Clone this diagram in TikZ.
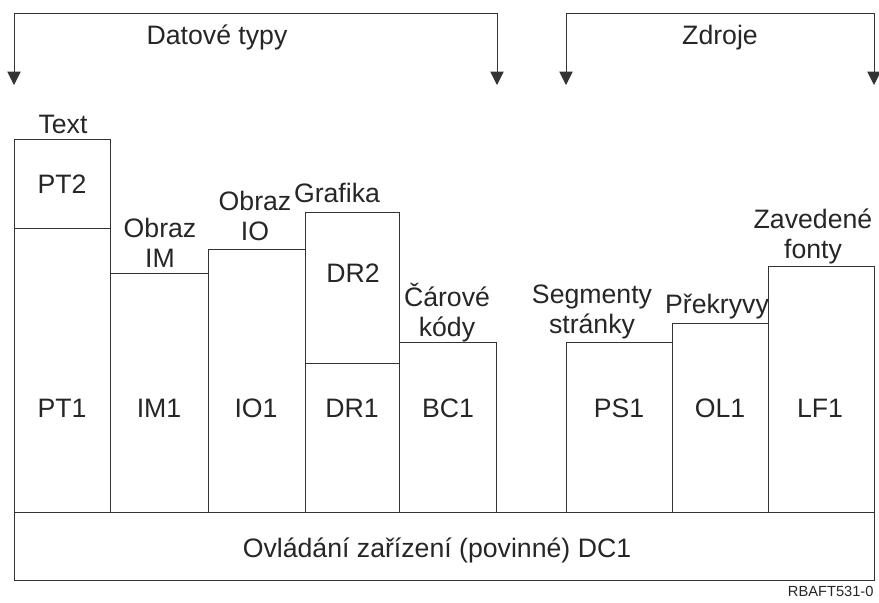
\documentclass[tikz,border=0pt]{standalone}
\usepackage{fontspec}
\setmainfont{Liberation Sans}
\usetikzlibrary{positioning}
\usetikzlibrary{arrows.meta}
\usetikzlibrary{calc}

\begin{document}
\begin{tikzpicture}[x=0.75pt,y=-0.75pt,line width=0.7pt,
    every node/.style={font=\fontsize{20}{22.5}\selectfont, text=black!85, inner sep=0pt},
    txt/.style={anchor=base, align=center},
    box/.style={draw=black!80},
    bracket/.style={draw=black!80, {Triangle[width=10pt,length=10pt]}-{Triangle[width=10pt,length=10pt]}}]
  \useasboundingbox (0,0) rectangle (879,603);

  % Define the corners of the brackets
  \coordinate (dtl) at (14,85);
  \coordinate (dtr) at (497,85);
  \coordinate (zdl) at (566,85);
  \coordinate (zdr) at (874,85);

  % Draw the brackets
  \draw[bracket] (dtl) -- (dtl |- 0,13) -- (dtr |- 0,13) -- (dtr);
  \draw[bracket] (zdl) -- (zdl |- 0,13) -- (zdr |- 0,13) -- (zdr);
  \node[txt] (datove) at (217,45) {Datové typy};
  \node[txt] (zdroje) at (720,45) {Zdroje};

  % Draw the boxes
  \draw[box] (14,139) rectangle (110,228);
  \draw[box] (14,228) rectangle (110,512);
  \draw[box] (110,273) rectangle (208,512);
  \draw[box] (208,249) rectangle (305,512);
  \draw[box] (305,212) rectangle (399,363);
  \draw[box] (305,363) rectangle (399,512);
  \draw[box] (399,342) rectangle (496,512);
  \draw[box] (566,342) rectangle (672,512);
  \draw[box] (672,323) rectangle (768,512);
  \draw[box] (768,266) rectangle (874,512);
  \draw[box] (14,512) rectangle (874,580);

  % Labels above the boxes (base = last line)
  \node[txt] (text) at (63,133) {Text};
  \node[txt] (im) at (160,267) {Obraz\\IM};
  \node[txt] (io) at (255,240) {Obraz\\IO};
  \node[txt] (grafika) at (337,202) {Grafika};
  \node[txt] (carove) at (447,336) {Čárové\\kódy};
  \node[txt] (segmenty) at (592,333) {Segmenty\\stránky};
  \node[txt] (prekryvy) at (717,313) {Překryvy};
  \node[txt] (zavedene) at (813,258) {Zavedené\\fonty};

  % Labels in the boxes
  \node[txt] (pt2) at (62,193) {PT2};
  \node[txt] (dr2) at (353,282) {DR2};
  \foreach \name/\x in {PT1/62, IM1/159, IO1/256, DR1/352, BC1/448, PS1/619, OL1/720, LF1/820}
    \node[txt] (\name) at (\x,417) {\name};
  \node[txt] (dc1) at (437,557) {Ovládání zařízení (povinné) DC1};
  \node[anchor=base east, font=\fontsize{11}{13}\selectfont] (ref) at (874,596) {RBAFT531-0};
\end{tikzpicture}
\end{document}
